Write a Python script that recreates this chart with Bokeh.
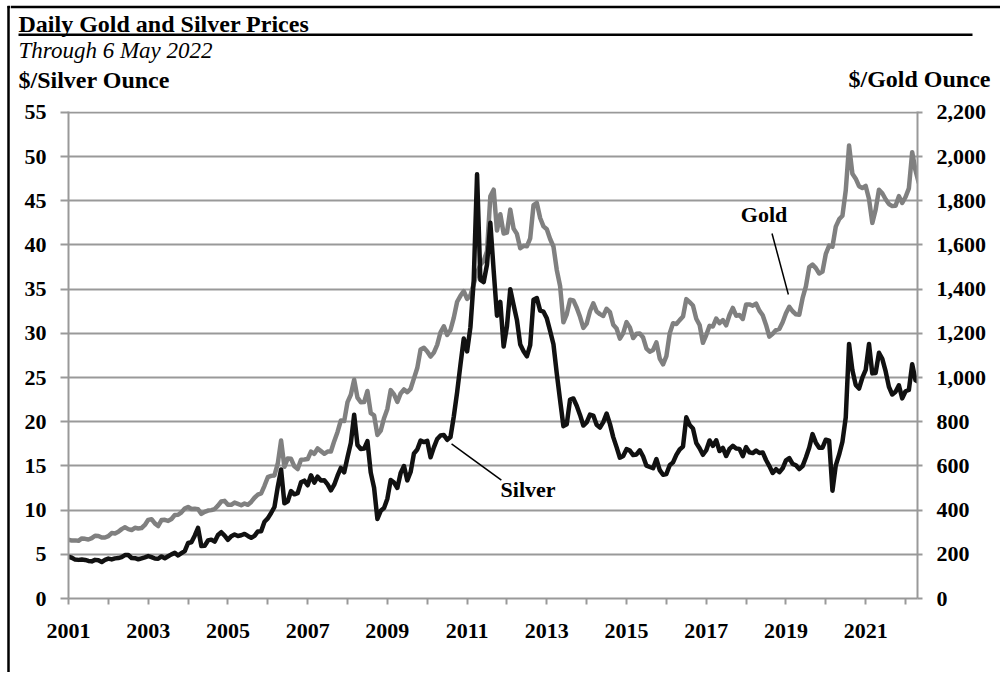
import pandas as pd
from bokeh.plotting import figure
from bokeh.layouts import row, column
from bokeh.models import (Range1d, LinearAxis, FixedTicker, Label,
                          NumeralTickFormatter, ColumnDataSource)
from bokeh.core.properties import value
from bokeh.embed import file_html
from bokeh.resources import INLINE

# ---------------- data (monthly) ----------------
months = pd.date_range("2001-01-01", "2022-05-01", freq="MS")

gold = [
    266, 262, 263, 261, 272, 270, 267, 273, 284, 283, 276, 276,
    282, 296, 294, 302, 314, 322, 314, 310, 320, 317, 319, 333,
    356, 359, 340, 328, 355, 356, 351, 360, 378, 379, 390, 407,
    414, 405, 406, 404, 383, 392, 398, 400, 405, 420, 439, 442,
    424, 424, 434, 428, 422, 430, 424, 437, 456, 470, 476, 510,
    549, 555, 557, 610, 715, 596, 634, 632, 598, 586, 628, 629,
    631, 665, 655, 679, 667, 655, 665, 665, 712, 754, 806, 803,
    889, 922, 990, 909, 888, 889, 939, 839, 829, 740, 760, 816,
    858, 943, 924, 890, 928, 946, 934, 949, 996, 1043, 1127, 1135,
    1118, 1095, 1113, 1148, 1205, 1232, 1193, 1215, 1271, 1343, 1370, 1391,
    1356, 1372, 1424, 1474, 1510, 1528, 1572, 1820, 1850, 1665, 1739, 1652,
    1656, 1760, 1674, 1650, 1585, 1596, 1594, 1630, 1780, 1790, 1722, 1684,
    1671, 1627, 1593, 1487, 1414, 1250, 1286, 1352, 1349, 1316, 1275, 1225,
    1244, 1300, 1336, 1299, 1287, 1279, 1311, 1296, 1239, 1222, 1176, 1201,
    1251, 1227, 1179, 1198, 1199, 1181, 1131, 1117, 1125, 1159, 1086, 1060,
    1097, 1200, 1246, 1242, 1260, 1276, 1355, 1341, 1326, 1266, 1238, 1157,
    1192, 1234, 1231, 1267, 1246, 1260, 1236, 1283, 1315, 1280, 1283, 1265,
    1331, 1331, 1325, 1335, 1303, 1282, 1238, 1185, 1198, 1215, 1220, 1250,
    1291, 1320, 1300, 1286, 1284, 1359, 1413, 1500, 1511, 1495, 1471, 1480,
    1560, 1597, 1592, 1683, 1716, 1732, 1847, 2050, 1922, 1900, 1866, 1858,
    1867, 1808, 1700, 1760, 1850, 1834, 1807, 1785, 1776, 1777, 1821, 1790,
    1817, 1856, 2020, 1937, 1880,
]

silver = [
    4.72, 4.61, 4.40, 4.37, 4.40, 4.36, 4.25, 4.20, 4.37, 4.32, 4.13, 4.37,
    4.52, 4.42, 4.54, 4.57, 4.68, 4.91, 4.92, 4.58, 4.56, 4.44, 4.55, 4.66,
    4.80, 4.68, 4.52, 4.50, 4.76, 4.56, 4.78, 4.99, 5.16, 4.87, 5.12, 5.37,
    6.28, 6.36, 7.11, 8.00, 5.93, 5.97, 6.57, 6.66, 6.43, 7.18, 7.50, 7.12,
    6.64, 7.05, 7.24, 7.07, 7.16, 7.31, 7.08, 6.87, 7.09, 7.59, 7.62, 8.68,
    9.07, 9.67, 10.35, 12.62, 14.60, 10.77, 11.00, 12.16, 11.79, 11.93, 13.14, 13.33,
    12.81, 13.94, 13.11, 13.78, 13.35, 13.38, 12.91, 12.23, 12.88, 13.89, 14.77, 14.28,
    15.98, 17.60, 20.80, 17.37, 16.91, 16.96, 17.80, 14.24, 12.52, 9.00, 9.92, 10.23,
    11.29, 13.41, 13.11, 12.51, 14.20, 14.98, 13.36, 14.31, 16.41, 16.85, 17.86, 17.70,
    17.85, 15.98, 17.10, 18.05, 18.45, 18.51, 17.95, 18.27, 20.61, 23.34, 26.45, 29.41,
    27.96, 30.69, 36.03, 48.00, 36.05, 35.80, 37.79, 42.50, 37.10, 32.00, 33.56, 28.50,
    30.79, 35.00, 33.21, 31.52, 28.74, 27.97, 27.40, 28.66, 33.80, 34.00, 32.57, 32.45,
    31.70, 30.27, 28.77, 25.46, 22.44, 19.50, 19.71, 22.50, 22.63, 21.81, 20.77, 19.57,
    19.92, 20.81, 20.70, 19.66, 19.34, 19.95, 20.93, 19.76, 18.26, 17.13, 15.93, 16.13,
    16.90, 16.73, 16.23, 16.30, 16.77, 16.06, 15.03, 14.88, 14.74, 15.78, 14.53, 14.00,
    14.09, 15.07, 15.40, 16.25, 16.86, 17.19, 20.50, 19.63, 19.24, 17.59, 17.00, 16.26,
    16.77, 17.88, 17.26, 17.90, 16.69, 17.03, 16.12, 16.92, 17.27, 16.97, 16.93, 16.11,
    17.13, 16.54, 16.45, 16.73, 16.46, 16.53, 15.67, 14.98, 14.21, 14.63, 14.29, 14.73,
    15.64, 15.89, 15.23, 15.08, 14.65, 14.98, 15.95, 17.06, 18.60, 17.63, 17.05, 17.06,
    17.97, 17.86, 12.20, 15.07, 16.27, 17.74, 20.49, 28.80, 25.83, 24.17, 23.76, 24.98,
    25.86, 28.80, 25.47, 25.52, 27.80, 27.12, 25.72, 23.94, 23.08, 23.40, 24.13, 22.64,
    23.45, 23.59, 26.50, 24.69, 24.50,
]

year_ticks = list(range(2001, 2022, 2))
year_minor = list(range(2002, 2023, 2))
year_labels = [str(y) for y in year_ticks]
silver_ticks = list(range(0, 56, 5))
gold_ticks = list(range(0, 2201, 200))

title_text = "Daily Gold and Silver Prices"
subtitle_text = "Through 6 May 2022"
left_title = "$/Silver Ounce"
right_title = "$/Gold Ounce"

FONT = "Liberation Serif"
GRAY = "#999999"


def bare_fig(w, h, xr, yr):
    f = figure(width=w, height=h, output_backend="svg", toolbar_location=None,
               x_range=Range1d(*xr), y_range=Range1d(*yr), x_axis_type=None,
               y_axis_type=None, title=None, min_border=0, min_border_left=0,
               min_border_right=0, min_border_top=0, min_border_bottom=0)
    f.frame_align = False
    f.outline_line_color = None
    f.xgrid.visible = False
    f.ygrid.visible = False
    f.background_fill_color = "white"
    f.border_fill_color = "white"
    return f


# ---------------- left strip (page border) ----------------
strip = bare_fig(10, 672, (0, 10), (672, 0))
strip.segment(x0=[8, 7], y0=[5.5, 6.5], x1=[8, 10], y1=[672, 6.5],
              line_color="black", line_width=2.5)

# ---------------- header (titles) ----------------
top = bare_fig(990, 100, (10, 1000), (100, 0))
top.segment(x0=[10, 18], y0=[6.5, 34.3], x1=[1000, 972], y1=[6.5, 34.3],
            line_color="black", line_width=2.5)


def head_text(x, y, text, style, size, align="left"):
    top.text(x=[x], y=[y], text=[text], text_font=value(FONT), text_font_style=style,
             text_font_size=size, text_baseline="alphabetic", text_align=align,
             text_color="black")


head_text(18, 23.7, title_text, "bold", "24px")
head_text(18, 50.3, subtitle_text, "italic", "23px")
head_text(18, 79, left_title, "bold", "24px")
head_text(990, 78.5, right_title, "bold", "24px", align="right")

# ---------------- main chart ----------------
xdec = [d.year + (d.month - 1) / 12 for d in months]
src = ColumnDataSource(dict(x=xdec, gold=gold, silver=silver))

p = figure(width=990, height=572, output_backend="svg", toolbar_location=None,
           x_range=Range1d(2001, 2022.3), y_range=Range1d(0, 55.1),
           min_border_left=58, min_border_right=83, min_border_top=11,
           min_border_bottom=74, title=None)
p.frame_align = False
p.extra_y_ranges = {"gold": Range1d(0, 55.1 * 40)}
p.outline_line_color = None
p.background_fill_color = "white"
p.border_fill_color = "white"


def style_axis(ax):
    ax.axis_line_color = GRAY
    ax.axis_line_width = 2
    ax.major_tick_line_color = GRAY
    ax.major_tick_line_width = 2
    ax.major_tick_in = 0
    ax.minor_tick_in = 0
    ax.major_label_text_font = FONT
    ax.major_label_text_font_style = "bold"
    ax.major_label_text_font_size = "22px"
    ax.major_label_text_color = "black"


xa = p.xaxis[0]
xa.ticker = FixedTicker(ticks=year_ticks, minor_ticks=year_minor)
xa.major_label_overrides = {t: l for t, l in zip(year_ticks, year_labels)}
style_axis(xa)
xa.major_tick_out = 6
xa.minor_tick_out = 6
xa.minor_tick_line_color = GRAY
xa.minor_tick_line_width = 2
xa.major_label_standoff = 19

ya = p.yaxis[0]
ya.ticker = FixedTicker(ticks=silver_ticks, minor_ticks=[])
style_axis(ya)
ya.major_tick_out = 8
ya.minor_tick_line_color = None
ya.major_label_standoff = 14

ra = LinearAxis(y_range_name="gold", ticker=FixedTicker(ticks=gold_ticks, minor_ticks=[]),
                formatter=NumeralTickFormatter(format="0,0"))
style_axis(ra)
ra.major_tick_out = 5
ra.minor_tick_line_color = None
ra.major_label_standoff = 14
p.add_layout(ra, "right")

p.xgrid.visible = False
p.ygrid.ticker = FixedTicker(ticks=silver_ticks[1:])
p.ygrid.grid_line_color = GRAY
p.ygrid.grid_line_width = 2

p.line("x", "gold", source=src, y_range_name="gold", line_color="#808080",
       line_width=4.5, line_join="round")
p.line("x", "silver", source=src, line_color="#111111", line_width=4.5, line_join="round")

# callouts
p.segment(x0=[2018.65, 2010.61], y0=[41.3, 17.5], x1=[2019.06, 2011.86], y1=[34.4, 13.4],
          line_color="black", line_width=1.5)
p.add_layout(Label(x=2018.45, y=43.5, text="Gold", text_align="center",
                   text_baseline="middle", text_font=FONT, text_font_style="bold",
                   text_font_size="22px", text_color="black"))
p.add_layout(Label(x=2011.84, y=12.3, text="Silver", text_align="left",
                   text_baseline="middle", text_font=FONT, text_font_style="bold",
                   text_font_size="22px", text_color="black"))

layout = row(strip, column(top, p, spacing=0), spacing=0)
open("out.html", "w").write(file_html(layout, INLINE))
